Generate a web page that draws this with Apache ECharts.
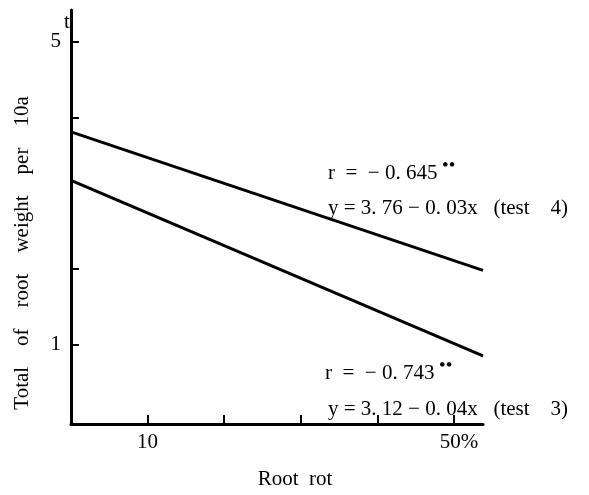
<!DOCTYPE html>
<html><head><meta charset="utf-8">
<script src="https://cdn.jsdelivr.net/npm/echarts@6/dist/echarts.min.js"></script>
<style>html,body{margin:0;padding:0;background:#fff}#c{width:589px;height:495px}</style>
</head><body><div id="c"></div>
<script>
// Data
const test4 = [[0, 3.81], [53.8, 1.98]];
const test3 = [[0, 3.17], [53.8, 0.85]];
const xTicks = [10, 20, 30, 40, 50];
const xTickLabels = {10: '10', 50: '{p|50%}'};
const yTicks = [1, 2, 4, 5];
const yTickLabels = {1: '1', 5: '5'};
const xTitle = 'Root  rot';
const yTitle = 'Total    of    root    weight    per    10a';
const yUnit = 't';
const ann4 = ['r  =  − 0. 645', 'y = 3. 76 − 0. 03x   (t est    4)'.replace('t est', 'test')];
const ann3 = ['r  =  − 0. 743', 'y = 3. 12 − 0. 04x   (test    3)'];
const stars = '••';

const FONT = 'Liberation Serif';
const FS = 21;
const chart = echarts.init(document.getElementById('c'));
const lineStyle = {color: '#000', width: 3};
function txt(s, x, yc, fs) {
  return {type: 'text', x: x, y: yc, style: {text: s, fontFamily: FONT, fontSize: fs || FS, fill: '#000', verticalAlign: 'middle', align: 'left'}};
}
chart.setOption({
  animation: false,
  backgroundColor: '#fff',
  grid: {left: 71, right: 106, top: 10, bottom: 68},
  xAxis: {
    type: 'value', min: 0, max: 53.8,
    axisLine: {show: true, onZero: false, lineStyle: {color: '#000', width: 3}},
    axisTick: {show: true, inside: true, length: 9, customValues: xTicks, lineStyle: {color: '#000', width: 2}},
    axisLabel: {customValues: [10, 50], formatter: v => xTickLabels[v] || '', fontFamily: FONT, fontSize: FS, color: '#000', margin: 8,
      rich: {p: {fontFamily: FONT, fontSize: FS, color: '#000', padding: [0, 0, 0, 10]}}},
    splitLine: {show: false},
    name: xTitle, nameLocation: 'middle', nameGap: 45,
    nameTextStyle: {fontFamily: FONT, fontSize: FS, color: '#000', padding: [0, 0, 0, 36]}
  },
  yAxis: {
    type: 'value', min: -0.05, max: 5.42,
    axisLine: {show: true, onZero: false, lineStyle: {color: '#000', width: 3}},
    axisTick: {show: true, inside: true, length: 8, customValues: yTicks, lineStyle: {color: '#000', width: 2}},
    axisLabel: {customValues: [1, 5], formatter: v => yTickLabels[v] || '', fontFamily: FONT, fontSize: FS, color: '#000', margin: 10},
    splitLine: {show: false}
  },
  series: [
    {type: 'line', data: test4, symbol: 'none', lineStyle: lineStyle},
    {type: 'line', data: test3, symbol: 'none', lineStyle: lineStyle}
  ],
  graphic: [
    {type: 'text', x: 22, y: 253, rotation: Math.PI / 2,
     style: {text: yTitle, fontFamily: FONT, fontSize: FS, fill: '#000', align: 'center', verticalAlign: 'middle'}},
    txt(yUnit, 64, 22),
    txt(ann4[0], 328, 173),
    txt(stars, 442, 166, 19),
    txt(ann4[1], 328, 208),
    txt(ann3[0], 325, 373),
    txt(stars, 439, 366, 19),
    txt(ann3[1], 328, 409)
  ]
});
</script></body></html>
